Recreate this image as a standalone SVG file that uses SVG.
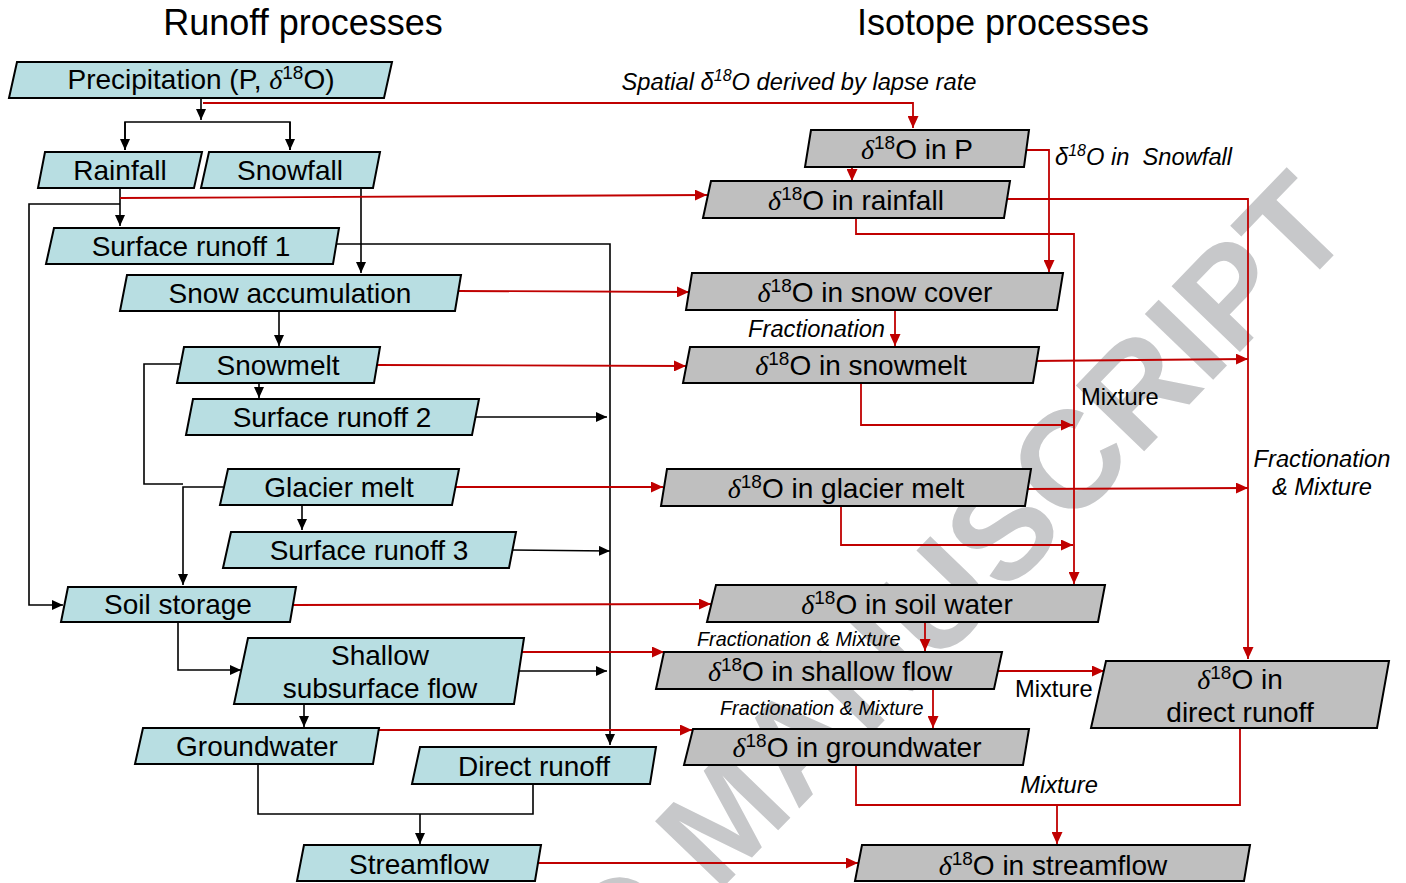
<svg xmlns="http://www.w3.org/2000/svg" width="1406" height="883" viewBox="0 0 1406 883">
  <style>
    .bg { fill: #ffffff; }
    .wm { fill: #c7c8ca; font-family: "Liberation Sans", Arial, sans-serif; font-weight: bold; font-size: 138px; }
    .title { font-family: "Liberation Sans", Arial, sans-serif; font-size: 36px; fill: #000; text-anchor: middle; }
    .blue { fill: #b8dee2; stroke: #000; stroke-width: 2; stroke-linejoin: miter; }
    .grey { fill: #bfbfbf; stroke: #000; stroke-width: 2; stroke-linejoin: miter; }
    .t { font-family: "Liberation Sans", Arial, sans-serif; font-size: 28px; fill: #000; text-anchor: middle; }
    .d { font-family: "Liberation Serif", "DejaVu Serif", serif; font-style: italic; }
    .s { font-size: 19px; }
    .lab { font-family: "Liberation Sans", Arial, sans-serif; font-size: 23.7px; fill: #000; }
    .it { font-style: italic; }
    .sm { font-size: 19.8px; }
    .k { fill: none; stroke: #000; stroke-width: 1.6; }
    .r { fill: none; stroke: #c00000; stroke-width: 1.8; }
  </style>
  <defs>
    <marker id="ak" markerUnits="userSpaceOnUse" markerWidth="11" markerHeight="10" refX="11" refY="5" orient="auto">
      <path d="M0,0 L11,5 L0,10 Z" fill="#000"/>
    </marker>
    <marker id="ar" markerUnits="userSpaceOnUse" markerWidth="12" markerHeight="11" refX="12" refY="5.5" orient="auto">
      <path d="M0,0 L12,5.5 L0,11 Z" fill="#c00000"/>
    </marker>
  </defs>

  <rect class="bg" x="0" y="0" width="1406" height="883"/>

  <!-- background stamp -->
  <text class="wm" transform="translate(1356,232) rotate(-46)" text-anchor="end">ACCEPTED MANUSCRIPT</text>

  <!-- column headings -->
  <text class="title" x="303" y="35">Runoff processes</text>
  <text class="title" x="1003" y="35">Isotope processes</text>

  <!-- connectors -->
  <g id="connectors">
    <!-- runoff side (black) -->
    <path class="k" d="M201,98 V120" marker-end="url(#ak)"/>
    <path class="k" d="M125,150 V122 H290 V150" />
    <path class="k" d="M125,122 V150" marker-end="url(#ak)"/>
    <path class="k" d="M290,122 V150" marker-end="url(#ak)"/>
    <path class="k" d="M120,188 V226" marker-end="url(#ak)"/>
    <path class="k" d="M120,204 H29 V605 H63" marker-end="url(#ak)"/>
    <path class="k" d="M361,188 V273" marker-end="url(#ak)"/>
    <path class="k" d="M336,244 H610 V745" marker-end="url(#ak)"/>
    <path class="k" d="M279,311 V346" marker-end="url(#ak)"/>
    <path class="k" d="M259,384 V398" marker-end="url(#ak)"/>
    <path class="k" d="M475,417 H607" marker-end="url(#ak)"/>
    <path class="k" d="M180,364 H144 V484 H183"/>
    <path class="k" d="M223,487 H183 V585" marker-end="url(#ak)"/>
    <path class="k" d="M302,505 V530" marker-end="url(#ak)"/>
    <path class="k" d="M512,550 L610,551" marker-end="url(#ak)"/>
    <path class="k" d="M178,622 V670 H241" marker-end="url(#ak)"/>
    <path class="k" d="M518,671 H607" marker-end="url(#ak)"/>
    <path class="k" d="M304,704 V727" marker-end="url(#ak)"/>
    <path class="k" d="M258,764 V814 H533 V784"/>
    <path class="k" d="M420,814 V844" marker-end="url(#ak)"/>

    <!-- isotope side (red) -->
    <path class="r" d="M203,103 H913 V128" marker-end="url(#ar)"/>
    <path class="r" d="M852,167 V181" marker-end="url(#ar)"/>
    <path class="r" d="M1025,150 H1049 V272" marker-end="url(#ar)"/>
    <path class="r" d="M120,198 L707,195" marker-end="url(#ar)"/>
    <path class="r" d="M1006,199 H1248 V659" marker-end="url(#ar)"/>
    <path class="r" d="M856,218 V234 H1074 V584" marker-end="url(#ar)"/>
    <path class="r" d="M458,291 L689,292" marker-end="url(#ar)"/>
    <path class="r" d="M895,310 V346" marker-end="url(#ar)"/>
    <path class="r" d="M377,365 L686,366" marker-end="url(#ar)"/>
    <path class="r" d="M1032,361 L1248,359" marker-end="url(#ar)"/>
    <path class="r" d="M861,383 V425 H1073" marker-end="url(#ar)"/>
    <path class="r" d="M455,487 H663" marker-end="url(#ar)"/>
    <path class="r" d="M1028,489 L1248,488" marker-end="url(#ar)"/>
    <path class="r" d="M841,506 V545 H1073" marker-end="url(#ar)"/>
    <path class="r" d="M293,605 L711,604" marker-end="url(#ar)"/>
    <path class="r" d="M925,622 V651" marker-end="url(#ar)"/>
    <path class="r" d="M522,652 H664" marker-end="url(#ar)"/>
    <path class="r" d="M998,671 H1104" marker-end="url(#ar)"/>
    <path class="r" d="M933,689 V728" marker-end="url(#ar)"/>
    <path class="r" d="M376,730 H692" marker-end="url(#ar)"/>
    <path class="r" d="M856,765 V805 H1240 V728"/>
    <path class="r" d="M1057,805 V844" marker-end="url(#ar)"/>
    <path class="r" d="M538,863 H858" marker-end="url(#ar)"/>

    <!-- connector labels -->
    <text class="lab it" x="799" y="90" text-anchor="middle">Spatial <tspan>δ</tspan><tspan font-size="16px" dy="-9">18</tspan><tspan dy="9">O derived by lapse rate</tspan></text>
    <text class="lab it" x="1055" y="165">δ<tspan font-size="16px" dy="-9">18</tspan><tspan dy="9">O in&#160; Snowfall</tspan></text>
    <text class="lab it" x="885" y="337" text-anchor="end">Fractionation</text>
    <text class="lab" x="1081" y="405">Mixture</text>
    <text class="lab it" x="1322" y="467" text-anchor="middle">Fractionation</text>
    <text class="lab it" x="1322" y="495" text-anchor="middle">&amp; Mixture</text>
    <text class="lab it sm" x="697" y="646">Fractionation &amp; Mixture</text>
    <text class="lab" x="1015" y="697">Mixture</text>
    <text class="lab it sm" x="720" y="715">Fractionation &amp; Mixture</text>
    <text class="lab it" x="1059" y="793" text-anchor="middle">Mixture</text>
  </g>

  <!-- runoff process nodes -->
  <g id="precipitation">
    <polygon class="blue" points="17,62 392,62 384,98 9,98"/>
    <text class="t" x="201" y="89">Precipitation (P, <tspan class="d">δ</tspan><tspan class="s" dy="-10">18</tspan><tspan dy="10">O)</tspan></text>
  </g>
  <g id="rainfall">
    <polygon class="blue" points="45,152 202,152 194,188 38,188"/>
    <text class="t" x="120" y="180">Rainfall</text>
  </g>
  <g id="snowfall">
    <polygon class="blue" points="209,152 380,152 373,188 201,188"/>
    <text class="t" x="290" y="180">Snowfall</text>
  </g>
  <g id="surface-runoff-1">
    <polygon class="blue" points="54,228 339,228 333,264 46,264"/>
    <text class="t" x="191" y="256">Surface runoff 1</text>
  </g>
  <g id="snow-accumulation">
    <polygon class="blue" points="127,275 461,275 455,311 120,311"/>
    <text class="t" x="290" y="303">Snow accumulation</text>
  </g>
  <g id="snowmelt">
    <polygon class="blue" points="184,347 380,347 374,383 177,383"/>
    <text class="t" x="278" y="375">Snowmelt</text>
  </g>
  <g id="surface-runoff-2">
    <polygon class="blue" points="193,399 479,399 472,435 186,435"/>
    <text class="t" x="332" y="427">Surface runoff 2</text>
  </g>
  <g id="glacier-melt">
    <polygon class="blue" points="228,469 459,469 452,505 220,505"/>
    <text class="t" x="339" y="497">Glacier melt</text>
  </g>
  <g id="surface-runoff-3">
    <polygon class="blue" points="231,532 516,532 509,568 223,568"/>
    <text class="t" x="369" y="560">Surface runoff 3</text>
  </g>
  <g id="soil-storage">
    <polygon class="blue" points="68,587 296,587 290,622 61,622"/>
    <text class="t" x="178" y="614">Soil storage</text>
  </g>
  <g id="shallow-subsurface-flow">
    <polygon class="blue" points="248,638 524,638 514,704 234,704"/>
    <text class="t" x="380" y="665">Shallow</text>
    <text class="t" x="380" y="698">subsurface flow</text>
  </g>
  <g id="groundwater">
    <polygon class="blue" points="143,728 379,728 373,764 135,764"/>
    <text class="t" x="257" y="756">Groundwater</text>
  </g>
  <g id="direct-runoff">
    <polygon class="blue" points="420,747 656,747 650,784 412,784"/>
    <text class="t" x="534" y="776">Direct runoff</text>
  </g>
  <g id="streamflow">
    <polygon class="blue" points="304,845 541,845 535,881 297,881"/>
    <text class="t" x="419" y="874">Streamflow</text>
  </g>

  <!-- isotope process nodes -->
  <g id="iso-p">
    <polygon class="grey" points="811,130 1029,130 1024,167 805,167"/>
    <text class="t" x="917" y="159"><tspan class="d">δ</tspan><tspan class="s" dy="-10">18</tspan><tspan dy="10">O in P</tspan></text>
  </g>
  <g id="iso-rainfall">
    <polygon class="grey" points="711,181 1010,181 1004,218 703,218"/>
    <text class="t" x="856" y="210"><tspan class="d">δ</tspan><tspan class="s" dy="-10">18</tspan><tspan dy="10">O in rainfall</tspan></text>
  </g>
  <g id="iso-snow-cover">
    <polygon class="grey" points="692,273 1063,273 1057,310 686,310"/>
    <text class="t" x="875" y="302"><tspan class="d">δ</tspan><tspan class="s" dy="-10">18</tspan><tspan dy="10">O in snow cover</tspan></text>
  </g>
  <g id="iso-snowmelt">
    <polygon class="grey" points="690,347 1039,347 1033,383 683,383"/>
    <text class="t" x="861" y="375"><tspan class="d">δ</tspan><tspan class="s" dy="-10">18</tspan><tspan dy="10">O in snowmelt</tspan></text>
  </g>
  <g id="iso-glacier-melt">
    <polygon class="grey" points="667,469 1031,469 1025,506 661,506"/>
    <text class="t" x="846" y="498"><tspan class="d">δ</tspan><tspan class="s" dy="-10">18</tspan><tspan dy="10">O in glacier melt</tspan></text>
  </g>
  <g id="iso-soil-water">
    <polygon class="grey" points="716,585 1105,585 1098,622 707,622"/>
    <text class="t" x="907" y="614"><tspan class="d">δ</tspan><tspan class="s" dy="-10">18</tspan><tspan dy="10">O in soil water</tspan></text>
  </g>
  <g id="iso-shallow-flow">
    <polygon class="grey" points="664,652 1002,652 994,689 656,689"/>
    <text class="t" x="830" y="681"><tspan class="d">δ</tspan><tspan class="s" dy="-10">18</tspan><tspan dy="10">O in shallow flow</tspan></text>
  </g>
  <g id="iso-groundwater">
    <polygon class="grey" points="693,729 1029,729 1023,765 684,765"/>
    <text class="t" x="857" y="757"><tspan class="d">δ</tspan><tspan class="s" dy="-10">18</tspan><tspan dy="10">O in groundwater</tspan></text>
  </g>
  <g id="iso-direct-runoff">
    <polygon class="grey" points="1106,661 1389,661 1377,728 1091,728"/>
    <text class="t" x="1240" y="689"><tspan class="d">δ</tspan><tspan class="s" dy="-10">18</tspan><tspan dy="10">O in</tspan></text>
    <text class="t" x="1240" y="722">direct runoff</text>
  </g>
  <g id="iso-streamflow">
    <polygon class="grey" points="862,845 1250,845 1244,881 855,881"/>
    <text class="t" x="1053" y="875"><tspan class="d">δ</tspan><tspan class="s" dy="-10">18</tspan><tspan dy="10">O in streamflow</tspan></text>
  </g>
</svg>
